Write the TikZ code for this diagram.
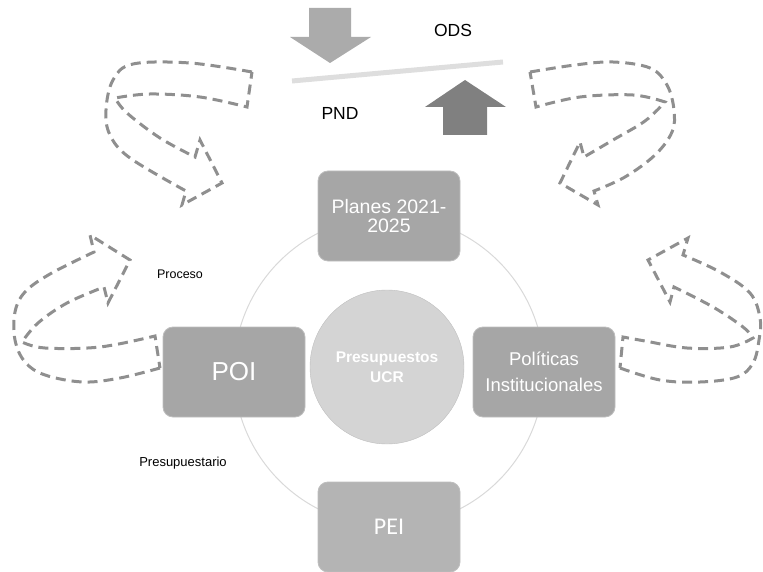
\documentclass[tikz,border=0pt]{standalone}
\usepackage{fontspec}
\setmainfont{Liberation Sans}
\newfontfamily\peifont{Carlito}
\usepackage{tikz}

\definecolor{boxgray}{HTML}{A6A6A6}
\definecolor{peigray}{HTML}{B4B4B4}
\definecolor{rimgray}{HTML}{BEBEBE}
\definecolor{ringgray}{HTML}{D9D9D9}
\definecolor{centergray}{HTML}{D4D4D4}
\definecolor{dashgray}{HTML}{8F8F8F}
\definecolor{downgray}{HTML}{ABABAB}
\definecolor{upgray}{HTML}{808080}
\definecolor{linegray}{HTML}{DEDEDE}

\begin{document}
\begin{tikzpicture}[x=1pt, y=-1pt,
    caja/.style={draw=rimgray, line width=0.8pt, fill=boxgray, rounded corners=10pt,
      minimum width=142pt, minimum height=90pt, align=center, text=white, inner sep=2pt},
    flecha/.style={draw=dashgray, line width=3pt, dash pattern=on 10pt off 6pt},
    etiqueta/.style={inner sep=0pt}]
  \useasboundingbox (0,0) rectangle (763,572);

  % balanza ODS / PND
    \fill[downgray] (309,8) -- (351,8) -- (351,37) -- (371,37) -- (330,63) -- (290,37) -- (309,37) -- cycle;
    \fill[upgray] (443,135) -- (487,135) -- (487,107) -- (506,107) -- (465,80) -- (425,107) -- (443,107) -- cycle;
    \draw[linegray, line width=5pt] (292,81) -- (503,62);
    \node[etiqueta, font=\fontsize{17.5}{19}\selectfont] at (453,30) (ods) {ODS};
    \node[etiqueta, font=\fontsize{17.5}{19}\selectfont] at (340,113) (pnd) {PND};

  % ciclo
    \draw[ringgray, line width=1pt] (389,371) circle (155);

    \node[caja, font=\fontsize{19.5}{19.5}\selectfont] at (389,216) (planes) {Planes 2021-\\2025};
    \node[caja, font=\fontsize{26}{28}\selectfont] at (234,372) (poi) {POI};
    \node[caja, font=\fontsize{18.5}{26}\selectfont] at (544,372) (politicas) {Políticas\\Institucionales};
    \node[caja, fill=peigray, font=\peifont\fontsize{24}{26}\selectfont] at (389,527) (pei) {PEI};

    \node[circle, draw=rimgray, fill=centergray, minimum size=154pt, align=center, text=white,
      font=\bfseries\fontsize{15.5}{20}\selectfont] at (387,367) (ucr) {Presupuestos\\UCR};

    \node[etiqueta, font=\fontsize{12.5}{14}\selectfont] at (180,274) (proceso) {Proceso};
    \node[etiqueta, font=\fontsize{13}{15}\selectfont] at (183,463) (presup) {Presupuestario};

  % flechas punteadas
    % arriba izquierda
    \draw[flecha] (252,72) -- plot[smooth, tension=0.6] coordinates {(252,72) (190,63) (133,64) (113,80) (106,110) (110,135) (130,158) (186,191)}
      -- (182,205) -- (222,183) -- (200,140) -- (195,157)
      -- plot[smooth, tension=0.6] coordinates {(195,157) (160,138) (127,113) (115,98)}
      -- plot[smooth, tension=0.6] coordinates {(115,98) (150,94) (200,97) (247,107)} -- cycle;
    % arriba derecha
    \draw[flecha] (530,72) -- plot[smooth, tension=0.6] coordinates {(530,72) (575,65) (613,62) (650,68) (667,85) (674,110) (672,132) (655,155) (625,177) (594,191)}
      -- (598,205) -- (560,183) -- (580,142) -- (584,157)
      -- plot[smooth, tension=0.6] coordinates {(584,157) (613,140) (645,121) (665,102)}
      -- plot[smooth, tension=0.6] coordinates {(665,102) (633,95) (580,97) (536,107)} -- cycle;
    % medio izquierda
    \draw[flecha] (160,368) -- plot[smooth, tension=0.6] coordinates {(160,368) (120,378) (83,382) (45,375) (25,362) (15,340) (15,312) (25,292) (50,274) (94,252)}
      -- (90,235) -- (130,260) -- (108,303) -- (104,287)
      -- plot[smooth, tension=0.6] coordinates {(104,287) (67,303) (38,323) (22,342)}
      -- plot[smooth, tension=0.6] coordinates {(22,342) (45,348) (100,347) (155,336)} -- cycle;
    % medio derecha
    \draw[flecha] (620,368) -- plot[smooth, tension=0.6] coordinates {(620,368) (660,380) (700,382) (737,377) (753,363) (759,340) (760,318) (750,293) (720,272) (683,255)}
      -- (688,238) -- (648,260) -- (670,302) -- (674,287)
      -- plot[smooth, tension=0.6] coordinates {(674,287) (713,307) (743,327) (753,338)}
      -- plot[smooth, tension=0.6] coordinates {(753,338) (730,347) (687,348) (645,341) (623,337)} -- cycle;
\end{tikzpicture}
\end{document}
